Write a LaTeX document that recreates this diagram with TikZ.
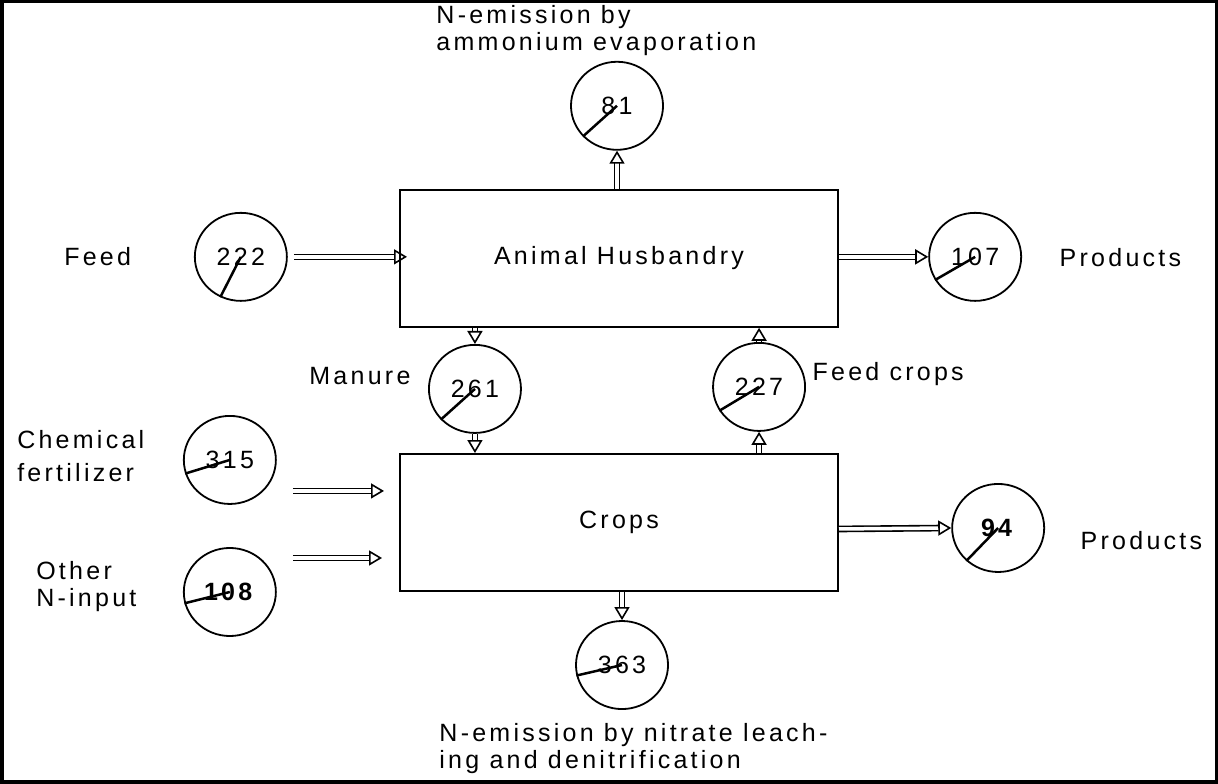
\documentclass[tikz,border=0pt]{standalone}
\usepackage{fontspec}
\setmainfont{Liberation Sans}[LetterSpace=13]
\usetikzlibrary{arrows.meta, shapes.geometric}

\begin{document}
\begin{tikzpicture}[x=1pt, y=-1pt,
    font=\fontsize{25}{27}\selectfont,
    proc/.style={rectangle, draw, line width=1.8pt, minimum width=438pt, minimum height=137pt},
    flow/.style={ellipse, draw, line width=1.8pt, minimum width=92pt, minimum height=88pt, inner sep=0pt},
    lbl/.style={anchor=west, align=left},
    arr/.style={double, double distance=3.5pt, line width=1.6pt, -{Triangle[open, length=13pt, width=15pt, line width=1.6pt]}},
    ptr/.style={line width=2.5pt}
  ]
  \draw[line width=3.5pt] (2,2) rectangle (1216,782);

  \node[proc] (AH) at (619,258.5) {Animal Husbandry};
  \node[proc] (Cr) at (619,522.5) {Crops};

  \node[flow] (n222) at (241,257) {222};
  \node[flow] (n81) at (617,106) {81};
  \node[flow] (n107) at (975,257) {107};
  \node[flow] (n261) at (475,389) {261};
  \node[flow] (n227) at (759,387) {227};
  \node[flow] (n315) at (230,460) {315};
  \node[flow] (n108) at (230,592) {\textbf{108}};
  \node[flow] (n94) at (998,528) {\textbf{94}};
  \node[flow] (n363) at (622,665) {363};

  % pointers inside the circles
  \draw[ptr] (n222.center) -- (n222.243);
  \draw[ptr] (n81.center) -- (n81.222);
  \draw[ptr] (n107.center) -- (n107.210);
  \draw[ptr] (n261.center) -- (n261.222);
  \draw[ptr] (n227.center) -- (n227.211);
  \draw[ptr] (n315.center) -- (n315.197);
  \draw[ptr] (n108.center) -- (n108.194);
  \draw[ptr] (n94.center) -- (n94.226);
  \draw[ptr] (n363.center) -- (n363.193);

  % labels
  \node[lbl] (tAmm) at (433,31) {N-emission by\\ammonium evaporation};
  \node[lbl] (tFeed) at (61,257) {Feed};
  \node[lbl] (tProd1) at (1056,258) {Products};
  \node[lbl] (tMan) at (306,376) {Manure};
  \node[lbl] (tFc) at (809,374) {Feed crops};
  \node[lbl] (tChem) at (14,456) {Chemical\\[6pt]fertilizer};
  \node[lbl] (tProd2) at (1077,541) {Products};
  \node[lbl] (tOther) at (33,587) {Other\\N-input};
  \node[lbl] (tNit) at (436,748) {N-emission by nitrate leach-\\ing and denitrification};

  % flows
  \coordinate (c1) at (293,491);
  \coordinate (c2) at (293,558);
  \draw[arr] ([xshift=6pt]n222.east) -- ([xshift=8pt]n222.east -| AH.west);
  \draw[arr] (n81.south |- AH.north) -- (n81.south);
  \draw[arr] (AH.east |- n107) -- (n107.west);
  \draw[arr] (AH.south -| n261) -- (n261.north);
  \draw[arr] (n261.south) -- (Cr.north -| n261);
  \draw[arr] (Cr.north -| n227) -- (n227.south);
  \draw[arr] (n227.north) -- (AH.south -| n227);
  \draw[arr] (c1) -- ([xshift=-15pt]Cr.west |- c1);
  \draw[arr] (c2) -- ([xshift=-17pt]Cr.west |- c2);
  \draw[arr] ([yshift=-1pt]Cr.east |- n94) -- (n94.west);
  \draw[arr] (Cr.south -| n363) -- (n363.north);
\end{tikzpicture}
\end{document}
